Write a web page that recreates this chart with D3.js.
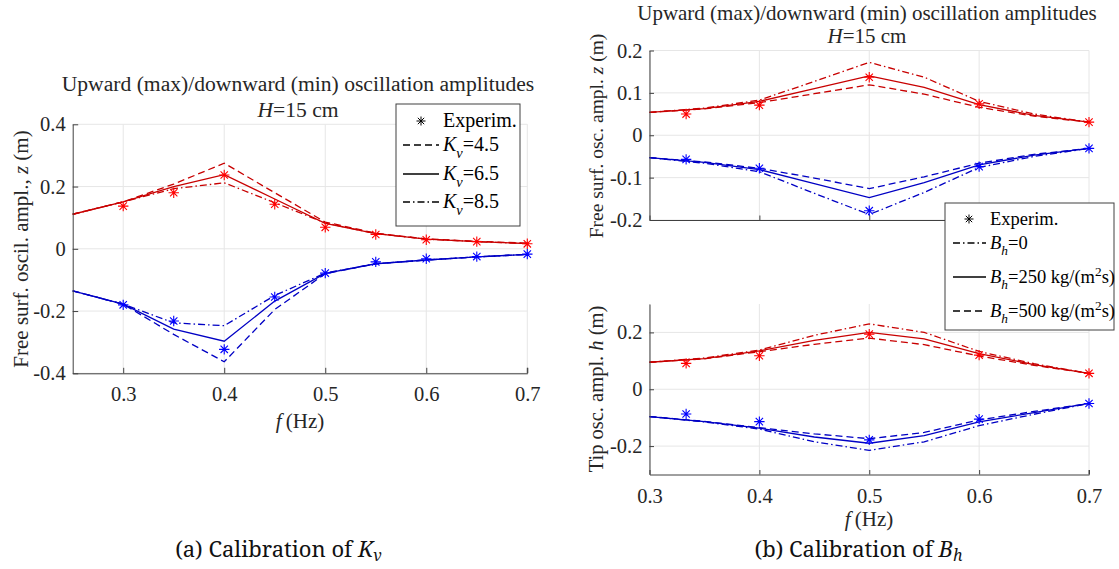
<!DOCTYPE html>
<html><head><meta charset="utf-8">
<script src="https://cdn.jsdelivr.net/npm/d3@7"></script>
<style>
body{margin:0;background:#fff;}
svg{display:block;}
</style></head><body>
<svg id="fig" width="1119" height="569"></svg>
<script>
// ---------- (a) calibration of K_v ----------
const freqA = [0.25, 0.3, 0.35, 0.4, 0.45, 0.5, 0.55, 0.6, 0.65, 0.7];
const upKv45 = [0.111, 0.151, 0.208, 0.275, 0.180, 0.086, 0.050, 0.032, 0.024, 0.018];
const upKv65 = [0.111, 0.151, 0.200, 0.238, 0.160, 0.082, 0.049, 0.031, 0.023, 0.017];
const upKv85 = [0.111, 0.151, 0.193, 0.212, 0.148, 0.083, 0.049, 0.031, 0.023, 0.017];
const downKv45 = [-0.135, -0.178, -0.275, -0.363, -0.195, -0.080, -0.048, -0.036, -0.026, -0.018];
const downKv65 = [-0.135, -0.178, -0.258, -0.297, -0.168, -0.079, -0.048, -0.036, -0.026, -0.018];
const downKv85 = [-0.135, -0.178, -0.238, -0.247, -0.150, -0.078, -0.048, -0.036, -0.026, -0.018];
const expFreqA = [0.3, 0.35, 0.4, 0.45, 0.5, 0.55, 0.6, 0.65, 0.7];
const expUpA = [0.137, 0.180, 0.237, 0.143, 0.069, 0.046, 0.029, 0.023, 0.016];
const expDownA = [-0.180, -0.232, -0.323, -0.155, -0.078, -0.042, -0.032, -0.025, -0.017];
const xTicksA = [0.3, 0.4, 0.5, 0.6, 0.7];
const yTicksA = [-0.4, -0.2, 0, 0.2, 0.4];

// ---------- (b) calibration of B_h ----------
const freqB = [0.3, 0.35, 0.4, 0.45, 0.5, 0.55, 0.6, 0.65, 0.7];
const upZBh0   = [0.054, 0.064, 0.083, 0.127, 0.172, 0.137, 0.080, 0.050, 0.031];
const upZBh250 = [0.054, 0.063, 0.080, 0.110, 0.140, 0.113, 0.072, 0.047, 0.031];
const upZBh500 = [0.054, 0.062, 0.077, 0.098, 0.119, 0.097, 0.066, 0.045, 0.031];
const downZBh0   = [-0.053, -0.066, -0.086, -0.137, -0.187, -0.135, -0.076, -0.050, -0.031];
const downZBh250 = [-0.053, -0.064, -0.081, -0.114, -0.147, -0.112, -0.070, -0.047, -0.031];
const downZBh500 = [-0.053, -0.063, -0.078, -0.101, -0.126, -0.098, -0.066, -0.045, -0.031];
const upHBh0   = [0.095, 0.110, 0.138, 0.190, 0.230, 0.200, 0.133, 0.090, 0.056];
const upHBh250 = [0.095, 0.108, 0.135, 0.172, 0.200, 0.177, 0.125, 0.087, 0.056];
const upHBh500 = [0.095, 0.107, 0.132, 0.158, 0.180, 0.157, 0.117, 0.084, 0.056];
const downHBh0   = [-0.096, -0.115, -0.140, -0.185, -0.215, -0.185, -0.128, -0.088, -0.050];
const downHBh250 = [-0.096, -0.114, -0.137, -0.168, -0.190, -0.163, -0.115, -0.082, -0.050];
const downHBh500 = [-0.096, -0.113, -0.135, -0.157, -0.174, -0.152, -0.108, -0.078, -0.050];
const expFreqB = [1 / 3, 0.4, 0.5, 0.6, 0.7];
const expUpZB = [0.050, 0.071, 0.137, 0.074, 0.031];
const expDownZB = [-0.057, -0.078, -0.178, -0.074, -0.031];
const expUpHB = [0.091, 0.118, 0.194, 0.120, 0.056];
const expDownHB = [-0.087, -0.114, -0.178, -0.105, -0.050];
const xTicksB = [0.3, 0.4, 0.5, 0.6, 0.7];
const yTicksZB = [-0.2, -0.1, 0, 0.1, 0.2];
const yTicksHB = [-0.2, 0, 0.2];

// ---------- styling ----------
const SERIF = '"Liberation Serif", "Times New Roman", serif';
const CAPTION_FONT = '"Noto Serif", "DejaVu Serif", serif';
const RED_LINE = "#c80000", RED_MARK = "#ff0000";
const BLUE_LINE = "#0000c4", BLUE_MARK = "#0000ff";
const DASH = { solid: null, dashed: "7,4", dashdot: "7,3,1.5,3" };
const AXIS_COL = "#404040", TEXT_COL = "#262626", GRID_COL = "#e6e6e6";

const svg = d3.select("#fig").style("font-family", SERIF);
const fmt = d => (d === 0 ? "0" : String(+d.toFixed(2)));

function star(r) {
  const d = r * 0.7071;
  return `M${-r},0H${r}M0,${-r}V${r}M${-d},${-d}L${d},${d}M${-d},${d}L${d},${-d}`;
}

// text with italic / sub / superscript runs
function rich(sel, parts, size, subShift = 0.33) {
  let shift = 0;
  parts.forEach(p => {
    const ts = sel.append("tspan").text(p.t);
    const target = p.sub ? size * subShift : p.sup ? -size * 0.4 : 0;
    if (target !== shift) { ts.attr("dy", target - shift); shift = target; }
    if (p.i) ts.style("font-style", "italic");
    if (p.sub || p.sup) ts.style("font-size", (size * 0.72) + "px");
  });
  return sel;
}

function panel(o) {
  const g = svg.append("g");
  const x = d3.scaleLinear().domain(o.xDomain).range(o.xRange);
  const y = d3.scaleLinear().domain(o.yDomain).range(o.yRange);

  // grid
  g.append("g").selectAll("line").data(o.xTicks).join("line")
    .attr("x1", d => x(d)).attr("x2", d => x(d))
    .attr("y1", o.yRange[0]).attr("y2", o.yRange[1])
    .attr("stroke", GRID_COL).attr("stroke-width", 1);
  g.append("g").selectAll("line").data(o.yTicks).join("line")
    .attr("y1", d => y(d)).attr("y2", d => y(d))
    .attr("x1", o.xRange[0]).attr("x2", o.xRange[1])
    .attr("stroke", GRID_COL).attr("stroke-width", 1);

  // model curves
  const line = d3.line().x(d => x(d[0])).y(d => y(d[1]));
  o.series.forEach(s => {
    g.append("path").datum(d3.zip(s.f, s.v))
      .attr("d", line).attr("fill", "none")
      .attr("stroke", s.color).attr("stroke-width", 1.3)
      .attr("stroke-dasharray", DASH[s.style]);
  });

  // experimental points
  o.points.forEach(p => {
    g.append("g").selectAll("path").data(d3.zip(p.f, p.v)).join("path")
      .attr("transform", d => `translate(${x(d[0])},${y(d[1])})`)
      .attr("d", star(5.2)).attr("fill", "none")
      .attr("stroke", p.color).attr("stroke-width", 1.1);
  });

  // axes (box off, inward ticks)
  const ax = g.append("g").attr("transform", `translate(0,${o.yRange[0]})`)
    .call(d3.axisBottom(x).tickValues(o.xTicks).tickSizeInner(-o.tick).tickSizeOuter(0)
      .tickPadding(13.5).tickFormat(o.xLabels ? fmt : () => ""));
  const ay = g.append("g").attr("transform", `translate(${o.xRange[0]},0)`)
    .call(d3.axisLeft(y).tickValues(o.yTicks).tickSizeInner(-o.tick).tickSizeOuter(0)
      .tickPadding(7).tickFormat(fmt));
  [ax, ay].forEach(a => {
    a.attr("font-family", null).attr("font-size", null);
    a.select(".domain").attr("stroke", AXIS_COL);
    a.selectAll(".tick line").attr("stroke", AXIS_COL);
    a.selectAll("text").attr("fill", TEXT_COL)
      .style("font-size", o.tickSize + "px").style("font-family", SERIF);
  });
  // small closing tick at right end of x axis
  g.append("line").attr("x1", o.xRange[1]).attr("x2", o.xRange[1])
    .attr("y1", o.yRange[0]).attr("y2", o.yRange[0] - o.tick).attr("stroke", AXIS_COL);
  return { x, y, g };
}

// ---------- panel (a) ----------
panel({
  xDomain: [0.25, 0.7], xRange: [72.7, 527.3],
  yDomain: [-0.4, 0.4], yRange: [373.3, 124.3],
  xTicks: xTicksA, yTicks: yTicksA, tick: 5.5, xLabels: true, tickSize: 20.5,
  series: [
    { f: freqA, v: upKv45, color: RED_LINE, style: "dashed" },
    { f: freqA, v: upKv65, color: RED_LINE, style: "solid" },
    { f: freqA, v: upKv85, color: RED_LINE, style: "dashdot" },
    { f: freqA, v: downKv45, color: BLUE_LINE, style: "dashed" },
    { f: freqA, v: downKv65, color: BLUE_LINE, style: "solid" },
    { f: freqA, v: downKv85, color: BLUE_LINE, style: "dashdot" }
  ],
  points: [
    { f: expFreqA, v: expUpA, color: RED_MARK },
    { f: expFreqA, v: expDownA, color: BLUE_MARK }
  ]
});

// ---------- panel (b), free surface ----------
panel({
  xDomain: [0.3, 0.7], xRange: [649.5, 1089],
  yDomain: [-0.2, 0.2], yRange: [220, 50.5],
  xTicks: xTicksB, yTicks: yTicksZB, tick: 4.5, xLabels: false, tickSize: 20.5,
  series: [
    { f: freqB, v: upZBh0, color: RED_LINE, style: "dashdot" },
    { f: freqB, v: upZBh250, color: RED_LINE, style: "solid" },
    { f: freqB, v: upZBh500, color: RED_LINE, style: "dashed" },
    { f: freqB, v: downZBh0, color: BLUE_LINE, style: "dashdot" },
    { f: freqB, v: downZBh250, color: BLUE_LINE, style: "solid" },
    { f: freqB, v: downZBh500, color: BLUE_LINE, style: "dashed" }
  ],
  points: [
    { f: expFreqB, v: expUpZB, color: RED_MARK },
    { f: expFreqB, v: expDownZB, color: BLUE_MARK }
  ]
});

// ---------- panel (b), tip ----------
panel({
  xDomain: [0.3, 0.7], xRange: [649.5, 1089],
  yDomain: [-0.3, 0.3], yRange: [474.5, 304],
  xTicks: xTicksB, yTicks: yTicksHB, tick: 4.5, xLabels: true, tickSize: 20.5,
  series: [
    { f: freqB, v: upHBh0, color: RED_LINE, style: "dashdot" },
    { f: freqB, v: upHBh250, color: RED_LINE, style: "solid" },
    { f: freqB, v: upHBh500, color: RED_LINE, style: "dashed" },
    { f: freqB, v: downHBh0, color: BLUE_LINE, style: "dashdot" },
    { f: freqB, v: downHBh250, color: BLUE_LINE, style: "solid" },
    { f: freqB, v: downHBh500, color: BLUE_LINE, style: "dashed" }
  ],
  points: [
    { f: expFreqB, v: expUpHB, color: RED_MARK },
    { f: expFreqB, v: expDownHB, color: BLUE_MARK }
  ]
});

// ---------- titles and axis labels ----------
function label(x, y, parts, size, rotate, subShift, family = SERIF) {
  const t = svg.append("text").attr("fill", TEXT_COL)
    .style("font-size", size + "px").style("font-family", family)
    .attr("text-anchor", "middle");
  if (rotate) t.attr("transform", `translate(${x},${y}) rotate(-90)`);
  else t.attr("x", x).attr("y", y);
  return rich(t, parts, size, subShift);
}
const titleLine = [{ t: "Upward (max)/downward (min) oscillation amplitudes" }];
const titleH = [{ t: "H", i: true }, { t: "=15 cm" }];
const fLabel = [{ t: "f", i: true }, { t: "\u2009(Hz)" }];

label(298, 91, titleLine, 21.6);
label(298, 117, titleH, 21.6);
label(300, 428, fLabel, 21);
label(28, 249, [{ t: "Free surf. oscil. ampl., " }, { t: "z", i: true }, { t: " (m)" }], 21, true);

label(867, 20, titleLine, 21);
label(867, 43, titleH, 21);
label(869, 526, fLabel, 21);
label(603, 136, [{ t: "Free surf. osc. ampl. " }, { t: "z", i: true }, { t: " (m)" }], 19.5, true);
label(603, 389, [{ t: "Tip osc. ampl. " }, { t: "h", i: true }, { t: " (m)" }], 20.5, true);

// ---------- legends ----------
function legend(box, rows, size) {
  const g = svg.append("g");
  g.append("rect").attr("x", box.x).attr("y", box.y).attr("width", box.w).attr("height", box.h)
    .attr("fill", "#fff").attr("stroke", AXIS_COL).attr("stroke-width", 1);
  rows.forEach(r => {
    if (r.marker) {
      g.append("path").attr("transform", `translate(${box.mx},${r.y})`)
        .attr("d", star(4.5)).attr("fill", "none").attr("stroke", "#000").attr("stroke-width", 1);
    } else {
      g.append("line").attr("x1", box.l0).attr("x2", box.l1).attr("y1", r.y).attr("y2", r.y)
        .attr("stroke", "#000").attr("stroke-width", 1.3).attr("stroke-dasharray", DASH[r.style]);
    }
    const t = g.append("text").attr("x", box.tx).attr("y", r.y + size * 0.32)
      .attr("fill", "#000").style("font-size", size + "px").style("font-family", SERIF);
    rich(t, r.parts, size);
  });
}
legend({ x: 396, y: 104, w: 124, h: 122, mx: 421, l0: 403, l1: 439, tx: 443 }, [
  { y: 121, marker: true, parts: [{ t: "Experim." }] },
  { y: 145, style: "dashed", parts: [{ t: "K", i: true }, { t: "v", i: true, sub: true }, { t: "=4.5" }] },
  { y: 174, style: "solid", parts: [{ t: "K", i: true }, { t: "v", i: true, sub: true }, { t: "=6.5" }] },
  { y: 202, style: "dashdot", parts: [{ t: "K", i: true }, { t: "v", i: true, sub: true }, { t: "=8.5" }] }
], 20);
legend({ x: 945, y: 203, w: 169, h: 127, mx: 969, l0: 953, l1: 986, tx: 990 }, [
  { y: 219, marker: true, parts: [{ t: "Experim." }] },
  { y: 243, style: "dashdot", parts: [{ t: "B", i: true }, { t: "h", i: true, sub: true }, { t: "=0" }] },
  { y: 277, style: "solid", parts: [{ t: "B", i: true }, { t: "h", i: true, sub: true }, { t: "=250 kg/(m" }, { t: "2", sup: true }, { t: "s)" }] },
  { y: 311, style: "dashed", parts: [{ t: "B", i: true }, { t: "h", i: true, sub: true }, { t: "=500 kg/(m" }, { t: "2", sup: true }, { t: "s)" }] }
], 18.5);

// ---------- sub-figure captions ----------
label(278.5, 557, [{ t: "(a) Calibration of " }, { t: "K", i: true }, { t: "v", i: true, sub: true }], 22, false, 0.2, CAPTION_FONT)
  .attr("fill", "#111");
label(858.5, 557, [{ t: "(b) Calibration of " }, { t: "B", i: true }, { t: "h", i: true, sub: true }], 22, false, 0.2, CAPTION_FONT)
  .attr("fill", "#111");
</script></body></html>
